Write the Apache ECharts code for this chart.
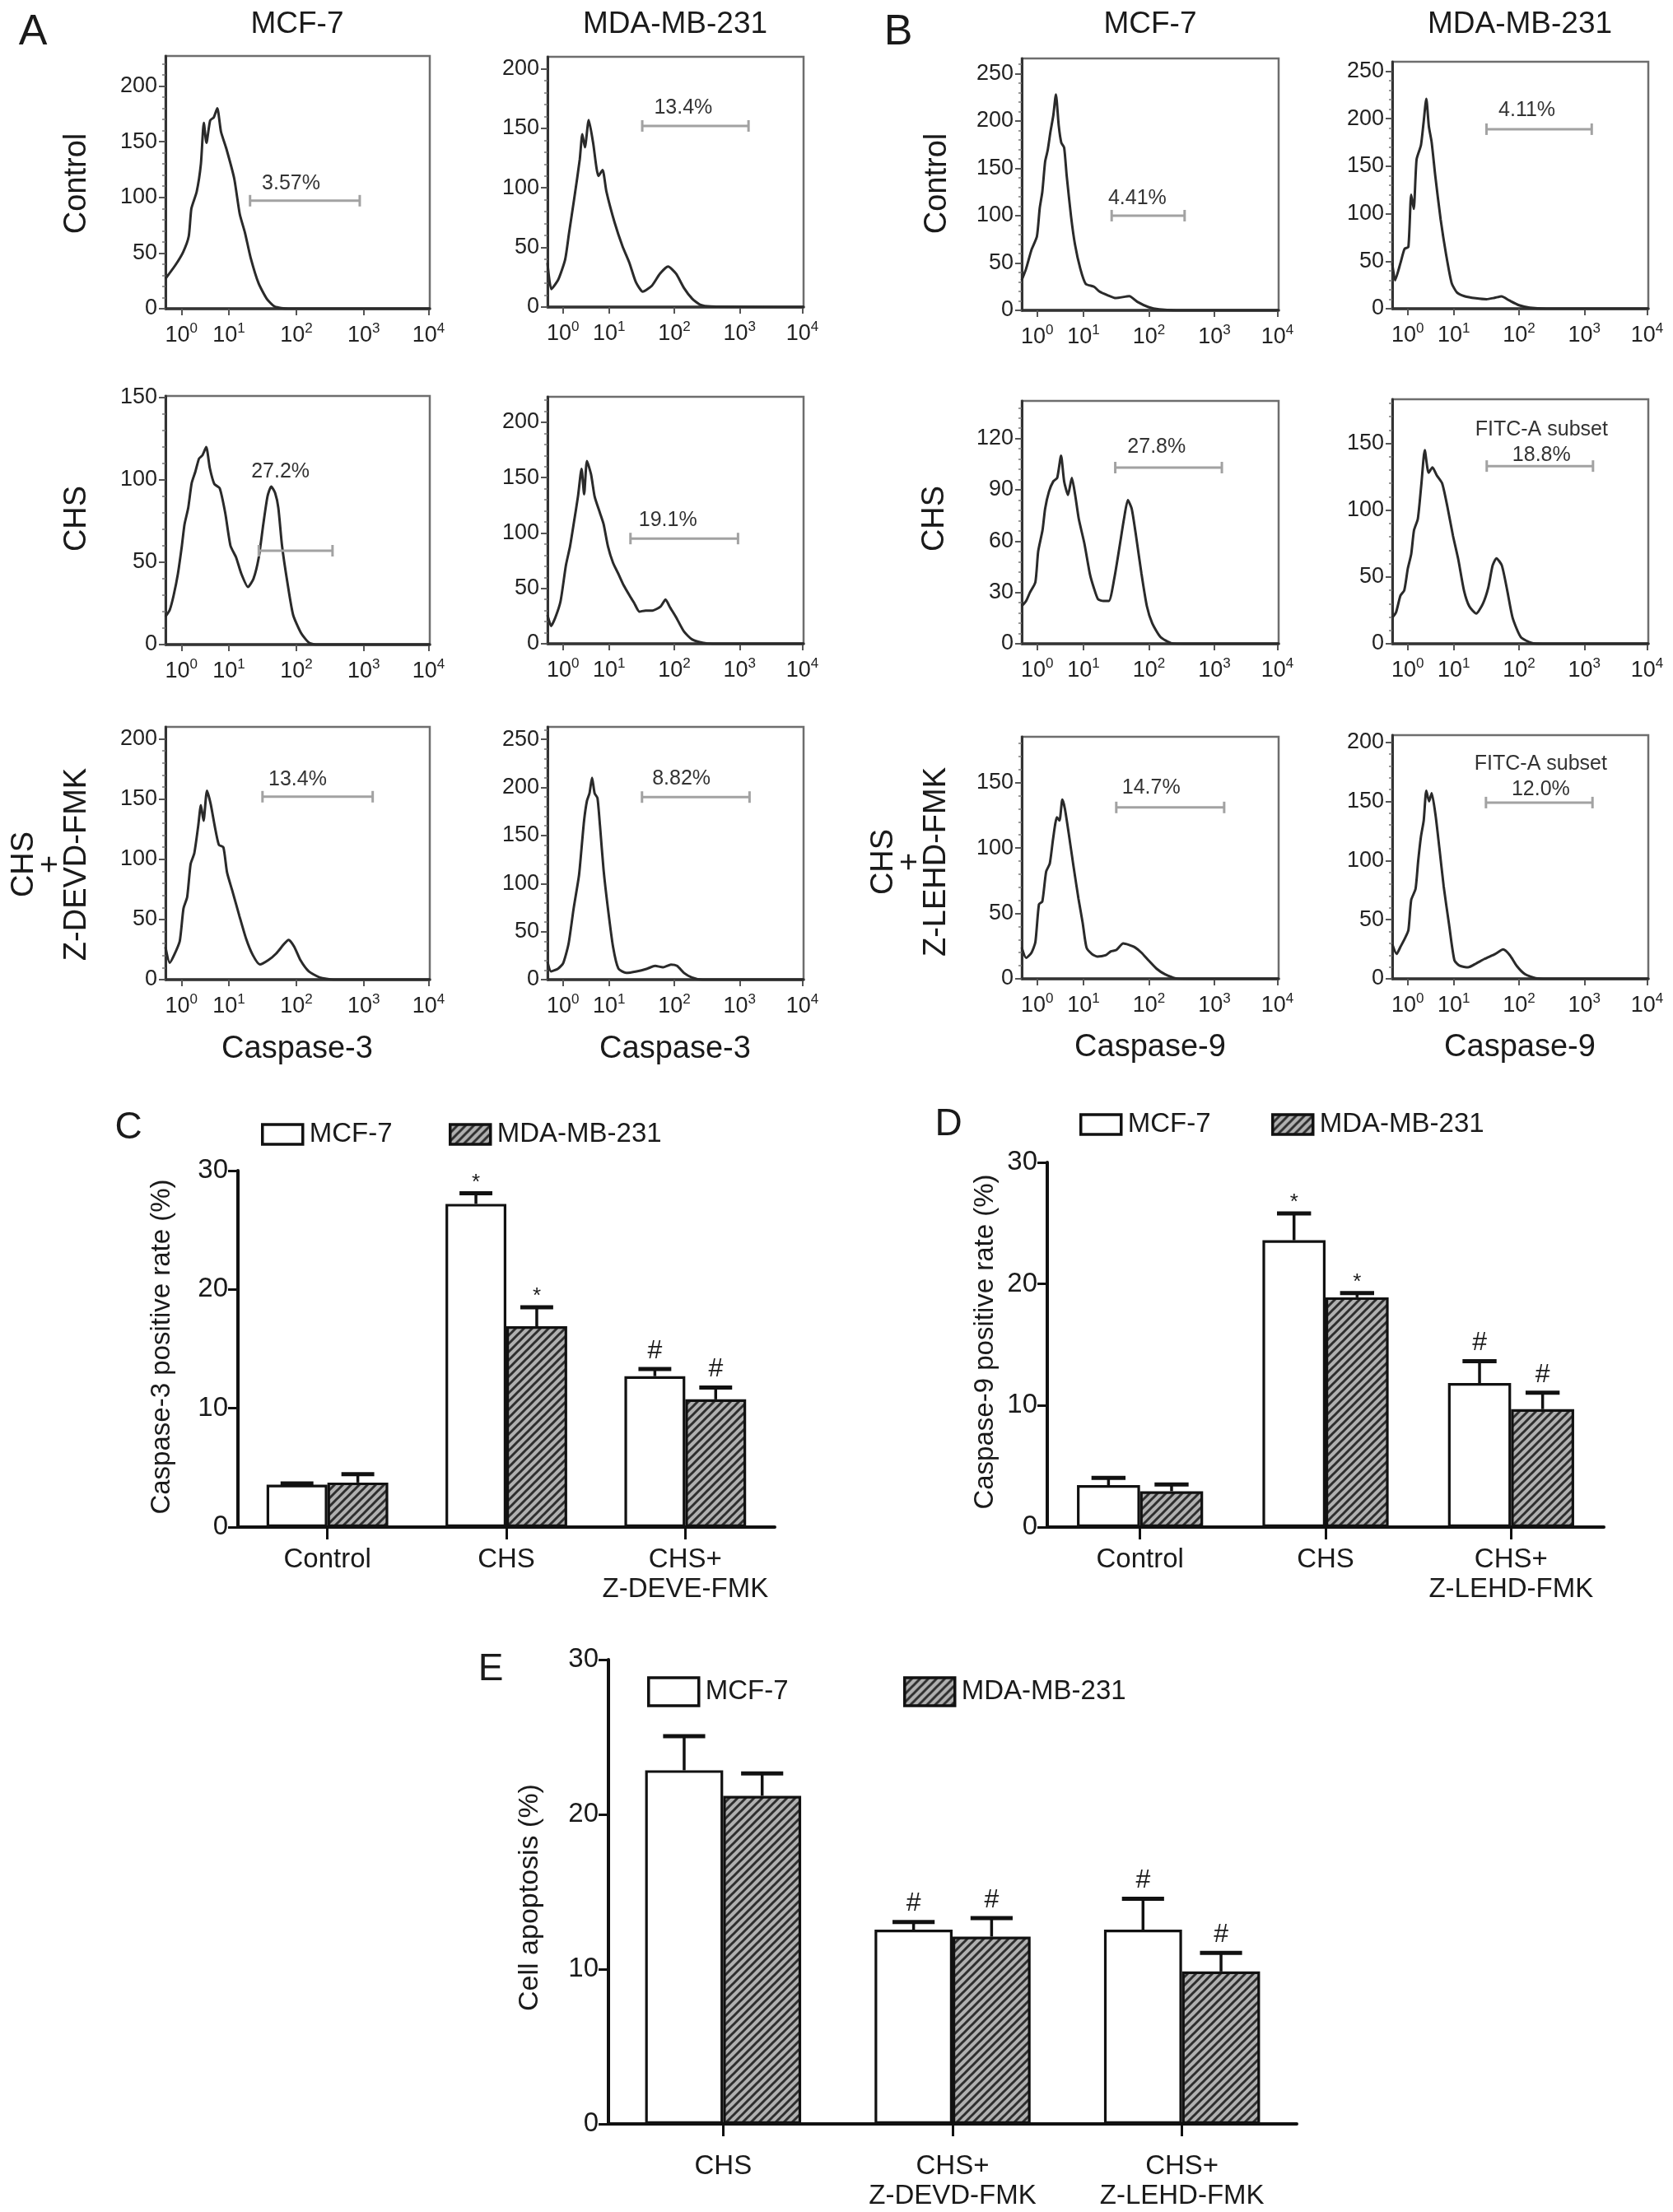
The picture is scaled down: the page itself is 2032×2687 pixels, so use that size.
<!DOCTYPE html>
<html><head><meta charset="utf-8">
<script src="https://cdn.jsdelivr.net/npm/echarts@6/dist/echarts.min.js"></script>
<style>html,body{margin:0;padding:0;background:#fff}#c{width:2032px;height:2687px}</style>
</head><body><div id="c"></div>
<script>
// ================= DATA =================
// Flow histograms: x = position on the logicle display axis (0-100), y = cell count
const xTickPos = [6, 24, 49.5, 75, 99.5];
const xTickExp = ['0', '1', '2', '3', '4'];

// A: Caspase-3, Control
const a1McfX = [0, 3.7, 6.7, 8.8, 9.8, 11.8, 13.4, 14.5, 15.5, 16.9, 18.3, 19.6, 21, 23, 26, 28.1, 30.1, 32.2, 35.2, 38.3, 41.3, 46.4, 100];
const a1McfY = [27, 39, 51, 65, 90, 105, 130, 167, 149, 169, 172, 180, 159, 144, 117, 85, 68, 46, 23, 9, 2, 0, 0];
const a1MdaX = [0, 1.5, 4.2, 6.9, 8.4, 10.5, 12.6, 13.6, 14.6, 16.1, 17.8, 19.9, 21.5, 23, 26.2, 29.3, 32, 34.5, 37.2, 40.8, 43.9, 47.1, 50.2, 53.3, 56.5, 59.6, 63.8, 100];
const a1MdaY = [37, 15, 23, 40, 62, 92, 124, 145, 134, 157, 138, 110, 115, 97, 71, 51, 37, 21, 13, 18, 28, 34, 28, 16, 7, 2, 0.5, 0];
// B: Caspase-9, Control
const b1McfX = [0, 1.7, 3.8, 5.9, 7, 8, 9.1, 10.1, 11.2, 12.3, 13.3, 14.4, 15.4, 16.5, 17.5, 19.2, 20.7, 22.8, 24.9, 28.1, 30.2, 33.4, 36.6, 41.9, 45, 49.3, 53.5, 59.8, 100];
const b1McfY = [32, 44, 64, 78, 108, 125, 157, 169, 189, 206, 228, 195, 177, 172, 142, 99, 70, 44, 28, 25, 20, 16, 13, 15, 9, 3.5, 1, 0, 0];
const b1MdaX = [0, 1.1, 3.2, 4.8, 6.3, 7.4, 8.4, 9.5, 11.2, 12.2, 13.3, 14.3, 15.4, 16.8, 18.9, 21.1, 23.2, 25.3, 28.4, 32.6, 36.8, 40, 42.7, 45.7, 49.5, 53.7, 60, 100];
const b1MdaY = [48, 30, 48, 63, 65, 120, 105, 157, 172, 195, 221, 192, 175, 140, 94, 56, 27, 17, 13, 11, 10, 11.5, 13, 8.7, 3.7, 1, 0, 0];
// A: CHS
const a2McfX = [0, 1.6, 3.1, 4.7, 6.2, 7.2, 8.6, 9.9, 11.3, 12.7, 14, 15.4, 16.8, 18.5, 20.5, 22.6, 24.6, 26.7, 28.7, 31.2, 33.3, 35.3, 37, 38.6, 40, 41.5, 42.7, 44.1, 46.2, 48.3, 51.3, 54.4, 57.5, 100];
const a2McfY = [17, 21, 30, 43, 60, 73, 83, 98, 105, 113, 115, 120, 107, 97.5, 95, 80, 60, 53, 43, 35, 40, 53, 73, 90, 96, 92, 83, 60, 37, 18, 7, 1, 0, 0];
const a2MdaX = [0, 1.4, 3.1, 5.1, 7.2, 8.8, 10.2, 11.9, 13.3, 14.3, 15.4, 17, 18.4, 20.5, 21.9, 23.6, 25.6, 27.7, 29.7, 32.2, 33.8, 35.9, 38.3, 41, 44.1, 46.1, 47.7, 50.2, 53.3, 56.4, 60.5, 64.5, 100];
const a2MdaY = [26, 16, 24, 38.5, 71, 88, 108, 133, 158, 135, 165, 153, 133, 118, 108, 88, 73, 63, 53, 43, 37, 29, 30, 30, 33.5, 40, 33.5, 24, 11, 4, 1, 0, 0];
// B: CHS
const b2McfX = [0, 1.7, 3.2, 5.3, 6.4, 8.1, 9.1, 10.6, 12.3, 13.8, 15.3, 16.5, 18, 19.5, 20.8, 22.2, 24.4, 26.5, 28, 29.7, 31.8, 33.9, 36, 38.1, 39.8, 41.3, 42.8, 44.5, 46.6, 48.7, 50.8, 54, 58.3, 63.6, 100];
const b2McfY = [22, 25, 30, 36, 54, 66.5, 79, 89, 95, 97, 110, 95, 87, 97, 87, 73, 58.5, 41, 33, 26, 25, 25, 38, 57, 73, 84, 79, 63, 41, 22, 12, 4, 0.3, 0, 0];
const b2MdaX = [0, 1.5, 3.2, 4.7, 6.1, 7.4, 8.5, 10, 11.4, 12.7, 14.2, 15.7, 17.4, 19.5, 21.6, 23.7, 25.8, 28, 30.1, 32.8, 35.4, 37.5, 39.2, 40.7, 42.8, 44.9, 47, 50.2, 54.4, 58.7, 100];
const b2MdaY = [19.5, 23.6, 36, 40, 56.5, 67, 85, 93.5, 120, 145, 128, 132, 126, 120, 102, 81, 63, 40, 28, 22.6, 30, 42, 58.6, 64, 58.6, 40, 19.5, 5, 0.6, 0, 0];
// A: CHS + Z-DEVD-FMK
const a3McfX = [0, 1.6, 3.3, 5.4, 6.8, 8.2, 9.5, 10.9, 12.4, 13.4, 14.4, 15.7, 17.1, 18.6, 20.2, 21.9, 23.3, 25.4, 28, 30.5, 33, 35.7, 38.8, 41.9, 44.9, 46.6, 48.7, 51.1, 54.2, 58.4, 63.5, 100];
const a3McfY = [27, 14, 20.6, 32, 59, 68.6, 96, 105, 128, 145, 132, 157, 146, 128, 112, 110, 89, 73, 52.6, 34, 20.6, 12.6, 16, 21.7, 29.7, 33, 27.4, 16, 6.9, 1.8, 0, 0];
const a3MdaX = [0, 1.4, 4.1, 6.1, 8.2, 10.2, 12.3, 13.3, 14.3, 15.4, 16.4, 17.4, 18.4, 19.5, 20.5, 21.9, 23.6, 25.6, 27.7, 30.7, 34.8, 38.9, 42, 45.1, 48.2, 50.6, 53.3, 56.4, 60.5, 100];
const a3MdaY = [18.6, 8.6, 11.4, 17, 37, 74, 108.6, 137, 166, 186, 194, 210, 194, 189, 160, 114, 74, 34, 11.4, 7, 8.6, 11.4, 14.3, 12.9, 15.7, 14.3, 7, 2.3, 0, 0];
// B: CHS + Z-LEHD-FMK
const b3McfX = [0, 1.7, 3.8, 5.3, 6.7, 8, 9.5, 10.9, 12.2, 13.7, 14.7, 15.8, 16.8, 18.3, 20, 22.1, 23.7, 25.2, 27.3, 29.4, 32.6, 34.7, 36.8, 39.5, 41.6, 44.1, 46.6, 49.4, 52.5, 55.7, 59.9, 65.1, 100];
const b3McfY = [24, 16, 20, 28, 57, 59, 82, 88, 107, 123.5, 121, 137, 130, 111, 88, 61, 43, 24, 19, 17, 18, 21, 22, 27, 26, 24, 20, 14, 7.7, 3.5, 0.4, 0, 0];
const b3MdaX = [0, 1.7, 3.2, 4.9, 6.3, 7.4, 9.1, 10.1, 11.2, 12.3, 13.3, 14.4, 15.4, 16.9, 18.4, 20.1, 22.2, 24.3, 26.4, 29.6, 32.8, 35.9, 40.2, 43.3, 45.9, 48.6, 51.8, 56, 60.3, 100];
const b3MdaY = [29.5, 21, 27, 34, 41, 66.6, 76, 99, 120, 134, 159, 150, 157, 138.5, 110.7, 78, 45.7, 15.5, 11, 9.7, 13, 16.7, 21, 24.8, 20, 11, 4, 0.5, 0, 0];

// panel order: A1 MCF, A1 MDA, B1 MCF, B1 MDA, A2..., B2..., A3..., B3...
const histYMax = [227, 210, 266, 260, 151, 223, 142, 183, 210, 263, 185, 206];
const histYTicks = [
  [0, 50, 100, 150, 200], [0, 50, 100, 150, 200], [0, 50, 100, 150, 200, 250], [0, 50, 100, 150, 200, 250],
  [0, 50, 100, 150], [0, 50, 100, 150, 200], [0, 30, 60, 90, 120], [0, 50, 100, 150],
  [0, 50, 100, 150, 200], [0, 50, 100, 150, 200, 250], [0, 50, 100, 150], [0, 50, 100, 150, 200]
];
const gateStart = [32, 37, 35, 36.8, 35.3, 32.4, 36.4, 36.9, 36.7, 36.9, 36.8, 36.6];
const gateEnd = [73.5, 78.5, 63.4, 77.9, 63.2, 74.4, 77.9, 78.4, 78.4, 78.9, 78.8, 78.2];
const gateY = [97, 152, 100, 189, 57, 95, 103, 133, 152, 190, 131, 149];
const gateLabelX = [47.5, 53, 45, 52.6, 43.5, 47, 52.5, 58.3, 50, 52.3, 50.4, 58];
const gateLabelY = [112, 167, 118, 209, 105, 111.5, 115, 150.5, 166, 209, 146, 170.5];
const gateLabels = ['3.57%', '13.4%', '4.41%', '4.11%', '27.2%', '19.1%', '27.8%', 'FITC-A subset\n18.8%', '13.4%', '8.82%', '14.7%', 'FITC-A subset\n12.0%'];

// Bar charts
const seriesNames = ['MCF-7', 'MDA-MB-231'];
const cCats = ['Control', 'CHS', 'CHS+\nZ-DEVE-FMK'];
const cMcf = [3.57, 27.2, 12.7];
const cMcfErr = [0.1, 0.9, 0.6];
const cMda = [3.75, 16.9, 10.75];
const cMdaErr = [0.7, 1.6, 1.0];
const cMcfMark = ['', '*', '#'];
const cMdaMark = ['', '*', '#'];

const dCats = ['Control', 'CHS', 'CHS+\nZ-LEHD-FMK'];
const dMcf = [3.45, 23.6, 11.85];
const dMcfErr = [0.6, 2.2, 1.8];
const dMda = [2.95, 18.9, 9.7];
const dMdaErr = [0.55, 0.35, 1.35];
const dMcfMark = ['', '*', '#'];
const dMdaMark = ['', '*', '#'];

const eCats = ['CHS', 'CHS+\nZ-DEVD-FMK', 'CHS+\nZ-LEHD-FMK'];
const eMcf = [22.85, 12.55, 12.55];
const eMcfErr = [2.2, 0.5, 2.0];
const eMda = [21.2, 12.1, 9.85];
const eMdaErr = [1.45, 1.2, 1.2];
const eMcfMark = ['', '#', '#'];
const eMdaMark = ['', '#', '#'];

// ================= LAYOUT / STYLE =================
const FF = '"Liberation Sans", Arial, Helvetica, sans-serif';
const TXT = '#1a1a1a';
const histX = [a1McfX, a1MdaX, b1McfX, b1MdaX, a2McfX, a2MdaX, b2McfX, b2MdaX, a3McfX, a3MdaX, b3McfX, b3MdaX];
const histY = [a1McfY, a1MdaY, b1McfY, b1MdaY, a2McfY, a2MdaY, b2McfY, b2MdaY, a3McfY, a3MdaY, b3McfY, b3MdaY];
const colLeft = [201, 665, 1241, 1691];
const colWidth = [321, 311, 312, 311];
const boxTop = [[68, 69, 71, 75], [481, 482, 487, 485], [883, 883, 895, 893]];
const boxBottom = [[375, 373, 377, 375], [783, 782, 782, 782], [1190, 1190, 1189, 1189]];

function makeHatch() {
  const s = 10;
  const cv = document.createElement('canvas');
  cv.width = s; cv.height = s;
  const g = cv.getContext('2d');
  g.fillStyle = '#b0b0b0'; g.fillRect(0, 0, s, s);
  g.strokeStyle = '#2e2e2e'; g.lineWidth = 3; g.lineCap = 'square';
  g.beginPath();
  for (const o of [-s, 0, s]) { g.moveTo(o, s); g.lineTo(o + s, 0); }
  g.stroke();
  return cv;
}
const hatch = { image: makeHatch(), repeat: 'repeat' };

const grids = [], xAxes = [], yAxes = [], series = [], legends = [], graphics = [];

// ---- histograms ----
for (let i = 0; i < 12; i++) {
  const row = Math.floor(i / 4), col = i % 4;
  const top = boxTop[row][col], bottom = boxBottom[row][col];
  grids.push({ left: colLeft[col], top: top, width: colWidth[col], height: bottom - top,
    show: true, borderColor: '#6e6e6e', borderWidth: 2.5, backgroundColor: 'transparent' });
  xAxes.push({
    gridIndex: i, type: 'value', min: 0, max: 100,
    axisLine: { show: true, onZero: false, lineStyle: { color: '#333', width: 3.5 } },
    axisTick: { show: true, customValues: xTickPos, length: 8, lineStyle: { color: '#555', width: 2 } },
    axisLabel: {
      customValues: xTickPos, margin: 16,
      formatter: function (v) {
        let k = 0;
        for (let j = 0; j < xTickPos.length; j++) if (Math.abs(xTickPos[j] - v) < 1e-6) k = j;
        return '{b|10}{s|' + xTickExp[k] + '}';
      },
      rich: {
        b: { fontSize: 27, fontFamily: FF, color: '#222', lineHeight: 34 },
        s: { fontSize: 17, fontFamily: FF, color: '#222', verticalAlign: 'top', lineHeight: 18 }
      }
    },
    splitLine: { show: false }
  });
  const ticks = histYTicks[i];
  yAxes.push({
    gridIndex: i, type: 'value', min: 0, max: histYMax[i], interval: ticks[1] - ticks[0],
    axisLine: { show: true, lineStyle: { color: '#333', width: 3 } },
    axisTick: { show: true, customValues: ticks, length: 8, lineStyle: { color: '#555', width: 2 } },
    minorTick: { show: true, splitNumber: 5, length: 4, lineStyle: { color: '#777', width: 1.5 } },
    axisLabel: { customValues: ticks, fontSize: 27, fontFamily: FF, color: '#222', margin: 10 },
    splitLine: { show: false }, minorSplitLine: { show: false }
  });
  series.push({
    type: 'line', xAxisIndex: i, yAxisIndex: i, silent: true,
    data: histX[i].map((v, k) => [v, histY[i][k]]),
    symbol: 'none', smooth: 0.2, lineStyle: { color: '#2a2a2a', width: 3 }, z: 3
  });
  const lbl = gateLabels[i];
  series.push({
    type: 'custom', xAxisIndex: i, yAxisIndex: i, silent: true, z: 4,
    data: [[gateStart[i], gateEnd[i], gateY[i], gateLabelX[i], gateLabelY[i]]],
    renderItem: function (params, api) {
      const p1 = api.coord([api.value(0), api.value(2)]);
      const p2 = api.coord([api.value(1), api.value(2)]);
      const pl = api.coord([api.value(3), api.value(4)]);
      const st = { stroke: '#a2a2a2', lineWidth: 3 };
      return { type: 'group', children: [
        { type: 'line', shape: { x1: p1[0], y1: p1[1], x2: p2[0], y2: p2[1] }, style: st },
        { type: 'line', shape: { x1: p1[0], y1: p1[1] - 7, x2: p1[0], y2: p1[1] + 7 }, style: st },
        { type: 'line', shape: { x1: p2[0], y1: p2[1] - 7, x2: p2[0], y2: p2[1] + 7 }, style: st },
        { type: 'text', x: pl[0], y: pl[1], style: { text: lbl, fontSize: 25, fontFamily: FF, fill: '#333',
          align: 'center', verticalAlign: 'middle', lineHeight: 31 } }
      ] };
    }
  });
}

// ---- bar charts ----
const barPanels = [
  { cats: cCats, mcf: cMcf, mcfErr: cMcfErr, mda: cMda, mdaErr: cMdaErr, mcfMark: cMcfMark, mdaMark: cMdaMark,
    grid: { left: 289, top: 1422, width: 652, height: 433 }, labMargin: 22,
    legendY: 1378, legMcf: 317, legMda: 545, legW: 49, legH: 24 },
  { cats: dCats, mcf: dMcf, mcfErr: dMcfErr, mda: dMda, mdaErr: dMdaErr, mcfMark: dMcfMark, mdaMark: dMdaMark,
    grid: { left: 1272, top: 1412, width: 676, height: 443 }, labMargin: 22,
    legendY: 1366, legMcf: 1311, legMda: 1544, legW: 49, legH: 24 },
  { cats: eCats, mcf: eMcf, mcfErr: eMcfErr, mda: eMda, mdaErr: eMdaErr, mcfMark: eMcfMark, mdaMark: eMdaMark,
    grid: { left: 739, top: 2016, width: 836, height: 564 }, labMargin: 34,
    legendY: 2055, legMcf: 786, legMda: 1097, legW: 61, legH: 34 }
];

barPanels.forEach(function (bp, j) {
  const gi = 12 + j;
  grids.push(Object.assign({ show: false }, bp.grid));
  xAxes.push({
    gridIndex: gi, type: 'category', data: bp.cats,
    axisLine: { show: true, lineStyle: { color: '#111', width: 4 } },
    axisTick: { show: true, alignWithLabel: true, length: 15, lineStyle: { color: '#111', width: 3 } },
    axisLabel: { fontSize: 33, fontFamily: FF, color: TXT, margin: bp.labMargin, lineHeight: 36, interval: 0 },
    splitLine: { show: false }
  });
  yAxes.push({
    gridIndex: gi, type: 'value', min: 0, max: 30, interval: 10,
    axisLine: { show: true, lineStyle: { color: '#111', width: 4 } },
    axisTick: { show: true, length: 12, lineStyle: { color: '#111', width: 3 } },
    axisLabel: { fontSize: 33, fontFamily: FF, color: TXT, margin: 12 },
    splitLine: { show: false }
  });
  const groups = [
    { name: seriesNames[0], vals: bp.mcf, errs: bp.mcfErr, marks: bp.mcfMark, color: '#ffffff', side: -1 },
    { name: seriesNames[1], vals: bp.mda, errs: bp.mdaErr, marks: bp.mdaMark, color: hatch, side: 1 }
  ];
  groups.forEach(function (g) {
    series.push({
      type: 'bar', name: g.name, xAxisIndex: gi, yAxisIndex: gi, data: g.vals,
      barWidth: '34%', barGap: '0%', silent: true,
      itemStyle: { color: g.color, borderColor: '#111', borderWidth: 3.2 }, z: 2
    });
  });
  groups.forEach(function (g) {
    series.push({
      type: 'custom', xAxisIndex: gi, yAxisIndex: gi, silent: true, z: 5,
      data: g.vals.map((v, k) => [k, v, g.errs[k]]),
      renderItem: function (params, api) {
        const idx = api.value(0), v = api.value(1), e = api.value(2);
        const base = api.coord([idx, v]);
        const band = api.size([1, 0])[0];
        const x = base[0] + g.side * 0.17 * band;
        const topY = api.coord([idx, v + e])[1];
        const half = 0.34 * band * 0.27;
        const mark = g.marks[params.dataIndex];
        const ch = [
          { type: 'line', shape: { x1: x, y1: base[1], x2: x, y2: topY }, style: { stroke: '#111', lineWidth: 3.5 } },
          { type: 'line', shape: { x1: x - half, y1: topY, x2: x + half, y2: topY }, style: { stroke: '#111', lineWidth: 5 } }
        ];
        if (mark) {
          const isStar = mark === '*';
          ch.push({ type: 'text', x: x, y: topY - (isStar ? 0 : 6),
            style: { text: mark, fontSize: isStar ? 26 : 32, fontFamily: FF, fill: TXT, align: 'center', verticalAlign: 'bottom' } });
        }
        return { type: 'group', children: ch };
      }
    });
  });
  [[seriesNames[0], bp.legMcf], [seriesNames[1], bp.legMda]].forEach(function (it) {
    legends.push({
      data: [it[0]], left: it[1], top: bp.legendY - 20, padding: 0, itemGap: 0,
      itemWidth: bp.legW, itemHeight: bp.legH, icon: 'rect', selectedMode: false,
      itemStyle: { borderColor: '#111', borderWidth: 3.5 },
      textStyle: { fontSize: 33, fontFamily: FF, color: TXT, padding: [0, 0, 0, 3], lineHeight: 40 }
    });
  });
});

// ---- text annotations ----
function txt(x, y, s, size, opts) {
  return Object.assign({ type: 'text', x: x, y: y, silent: true,
    style: Object.assign({ text: s, fontSize: size, fontFamily: FF, fill: TXT, align: 'center', verticalAlign: 'middle' }, (opts && opts.style) || {}) },
    (opts && opts.el) || {});
}
const R = Math.PI / 2;
graphics.push(
  txt(40, 40, 'A', 52), txt(1091, 40, 'B', 52),
  txt(361, 30, 'MCF-7', 37), txt(820, 30, 'MDA-MB-231', 37),
  txt(1397, 30, 'MCF-7', 37), txt(1846, 30, 'MDA-MB-231', 37),
  txt(94, 223, 'Control', 38, { el: { rotation: R } }),
  txt(94, 630, 'CHS', 38, { el: { rotation: R } }),
  txt(62, 1050, 'CHS\n+\nZ-DEVD-FMK', 38, { el: { rotation: R }, style: { lineHeight: 32 } }),
  txt(1139, 223, 'Control', 38, { el: { rotation: R } }),
  txt(1136, 630, 'CHS', 38, { el: { rotation: R } }),
  txt(1106, 1047, 'CHS\n+\nZ-LEHD-FMK', 38, { el: { rotation: R }, style: { lineHeight: 32 } }),
  txt(361, 1275, 'Caspase-3', 38), txt(820, 1275, 'Caspase-3', 38),
  txt(1397, 1273, 'Caspase-9', 38), txt(1846, 1273, 'Caspase-9', 38),
  txt(156, 1370, 'C', 46), txt(1152, 1366, 'D', 46), txt(596, 2028, 'E', 46),
  txt(197, 1636, 'Caspase-3 positive rate (%)', 33, { el: { rotation: R } }),
  txt(1197, 1630, 'Caspase-9 positive rate (%)', 33, { el: { rotation: R } }),
  txt(644, 2305, 'Cell apoptosis (%)', 34, { el: { rotation: R } })
);

const chart = echarts.init(document.getElementById('c'), null, { renderer: 'canvas', width: 2032, height: 2687 });
chart.setOption({
  backgroundColor: '#ffffff',
  animation: false,
  grid: grids, xAxis: xAxes, yAxis: yAxes, series: series, legend: legends,
  graphic: { elements: graphics }
});
</script></body></html>
